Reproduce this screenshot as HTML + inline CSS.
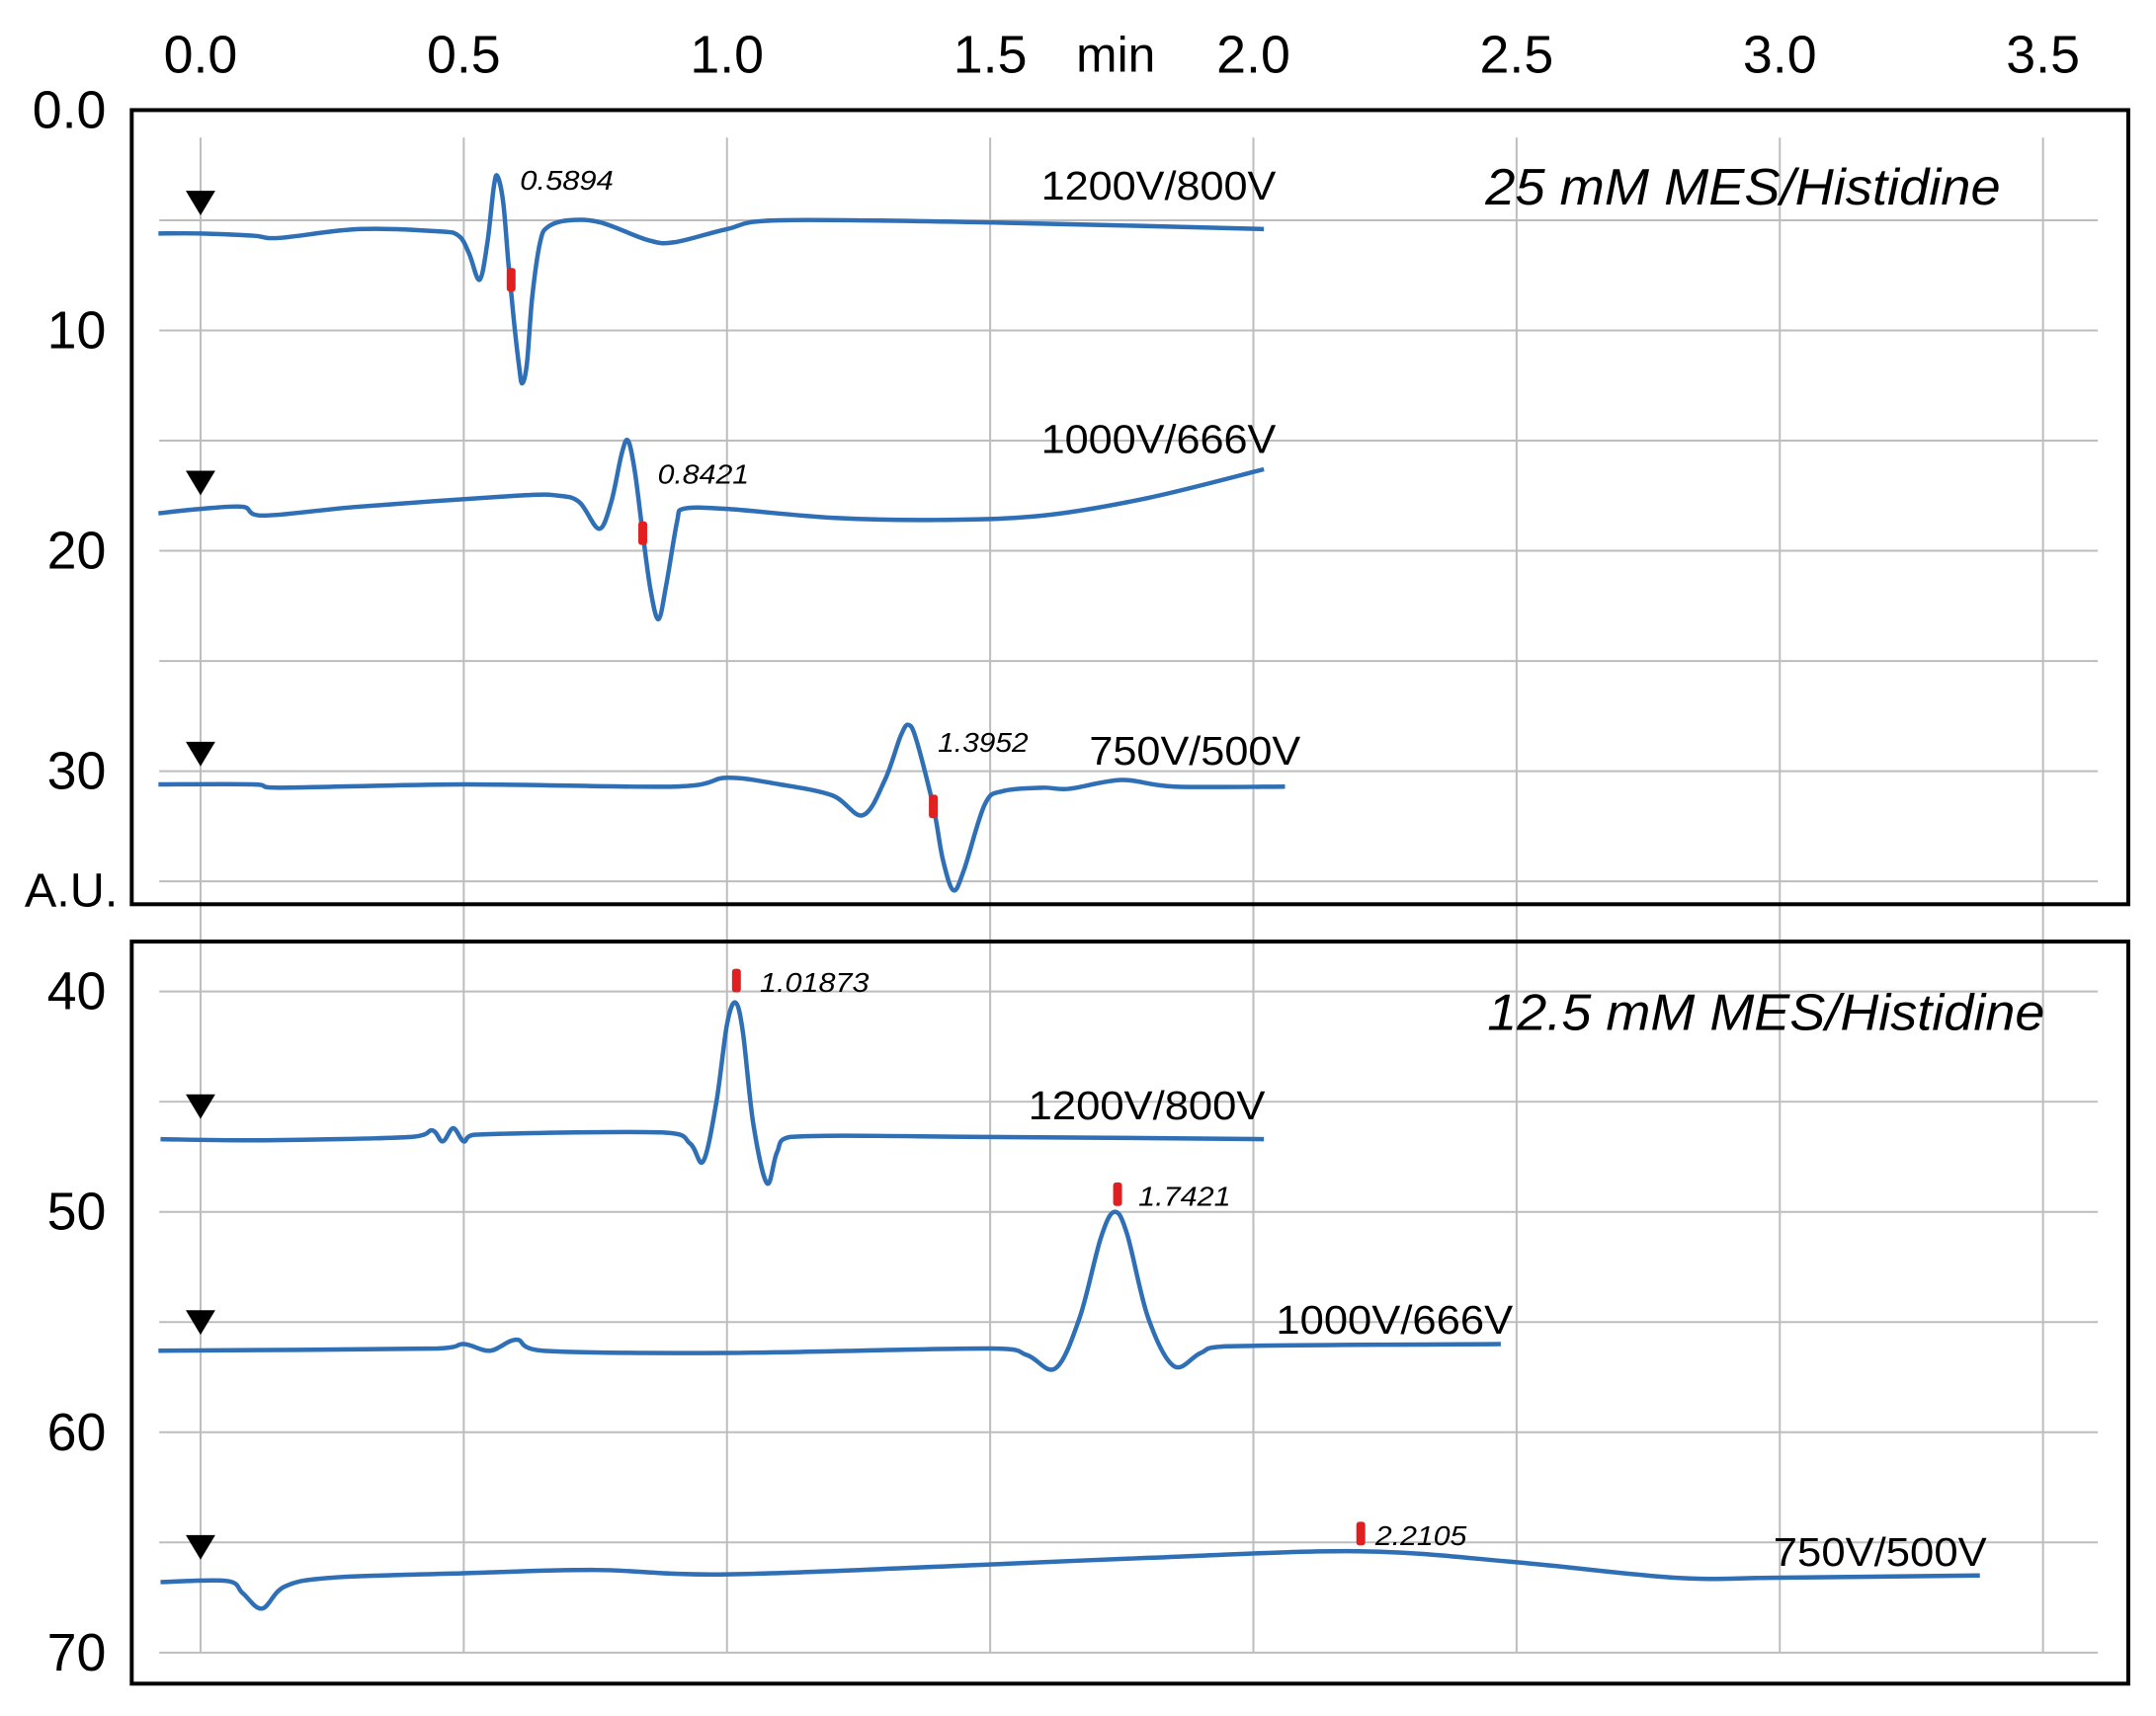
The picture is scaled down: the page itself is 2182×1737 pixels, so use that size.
<!DOCTYPE html>
<html><head><meta charset="utf-8"><style>
html,body{margin:0;padding:0;background:#fff;}
svg{display:block;font-family:"Liberation Sans",sans-serif;}
</style></head><body>
<svg id="chart" width="2182" height="1737" viewBox="0 0 2182 1737" xmlns="http://www.w3.org/2000/svg">
<g transform="scale(0.9949)">
<g id="grid"></g>
<g id="frames">
<rect x="134" y="112" width="2031" height="808" fill="none" stroke="#000" stroke-width="4"/>
<rect x="134" y="958" width="2031" height="755" fill="none" stroke="#000" stroke-width="4"/>
</g>
<g id="axes"></g>
<g id="traces"></g>
<g id="labels">
<text x="1511" y="208" font-size="52" font-style="italic" textLength="524" lengthAdjust="spacingAndGlyphs">25 mM MES/Histidine</text>
<text x="1513" y="1048" font-size="52" font-style="italic" textLength="567" lengthAdjust="spacingAndGlyphs">12.5 mM MES/Histidine</text>
<text x="1059" y="203" font-size="41" textLength="239" lengthAdjust="spacingAndGlyphs">1200V/800V</text>
<text x="1059" y="461" font-size="41" textLength="239" lengthAdjust="spacingAndGlyphs">1000V/666V</text>
<text x="1108" y="778" font-size="41" textLength="215" lengthAdjust="spacingAndGlyphs">750V/500V</text>
<text x="1046" y="1139" font-size="41" textLength="241" lengthAdjust="spacingAndGlyphs">1200V/800V</text>
<text x="1298" y="1357" font-size="41" textLength="241" lengthAdjust="spacingAndGlyphs">1000V/666V</text>
<text x="1804" y="1593" font-size="41" textLength="217" lengthAdjust="spacingAndGlyphs">750V/500V</text>
<text x="529" y="193" font-size="28" font-style="italic" textLength="95" lengthAdjust="spacingAndGlyphs">0.5894</text>
<text x="669" y="492" font-size="28" font-style="italic" textLength="93" lengthAdjust="spacingAndGlyphs">0.8421</text>
<text x="954" y="765" font-size="28" font-style="italic" textLength="92" lengthAdjust="spacingAndGlyphs">1.3952</text>
<text x="773" y="1009" font-size="28" font-style="italic" textLength="111" lengthAdjust="spacingAndGlyphs">1.01873</text>
<text x="1158" y="1227" font-size="28" font-style="italic" textLength="94" lengthAdjust="spacingAndGlyphs">1.7421</text>
<text x="1399" y="1572" font-size="28" font-style="italic" textLength="93" lengthAdjust="spacingAndGlyphs">2.2105</text>
</g>
</g>
</svg>
<script>
const xTicks = [0, 0.5, 1.0, 1.5, 2.0, 2.5, 3.0, 3.5];
const xTickLabels = ["0.0", "0.5", "1.0", "1.5", "2.0", "2.5", "3.0", "3.5"];
const yTicks = [0, 10, 20, 30, 40, 50, 60, 70];
const yTickLabels = ["0.0", "10", "20", "30", "40", "50", "60", "70"];
const yGridTop = [5, 10, 15, 20, 25, 30, 35];
const yGridBottom = [40, 45, 50, 55, 60, 65, 70];

const t1 = [-0.08,0,0.1,0.15,0.3,0.45,0.49,0.51,0.53,0.545,0.557,0.564,0.575,0.585,0.595,0.605,0.611,0.62,0.63,0.645,0.66,0.7,0.76,0.85,0.9,1.0,1.1,1.5,2.02];
const v1 = [5.6,5.6,5.7,5.8,5.4,5.5,5.7,6.5,7.7,6.0,3.5,3.0,4.2,7.0,9.5,11.6,12.4,11.5,8.5,6.0,5.3,5.0,5.1,5.9,6.0,5.4,5.0,5.1,5.4];
const t2 = [-0.08,0,0.08,0.12,0.3,0.6,0.68,0.72,0.757,0.78,0.8,0.812,0.825,0.84,0.855,0.87,0.885,0.905,0.916,1.0,1.2,1.4,1.6,1.8,2.02];
const v2 = [18.3,18.1,18.0,18.4,18.0,17.5,17.5,17.8,19.0,17.8,15.6,15.0,16.4,19.2,21.8,23.1,21.5,18.7,18.1,18.1,18.5,18.6,18.4,17.6,16.3];
const t3 = [-0.08,0.1,0.15,0.5,0.9,1.0,1.1,1.2,1.258,1.3,1.33,1.345,1.36,1.392,1.41,1.43,1.45,1.49,1.525,1.6,1.65,1.75,1.85,2.06];
const v3 = [30.6,30.6,30.75,30.6,30.7,30.3,30.6,31.1,32.0,30.4,28.4,27.9,28.6,31.6,34.0,35.4,34.5,31.5,30.9,30.75,30.8,30.4,30.7,30.7];
const t4 = [-0.076,0.12,0.4,0.44,0.46,0.48,0.5,0.52,0.88,0.93,0.955,0.98,1.0,1.016,1.03,1.05,1.076,1.095,1.12,1.5,2.02];
const v4 = [46.7,46.75,46.6,46.3,46.8,46.2,46.8,46.5,46.4,46.9,47.7,45.0,41.5,40.5,41.8,46.0,48.7,47.3,46.6,46.6,46.7];
const t5 = [-0.08,0.45,0.5,0.55,0.6,0.65,1.0,1.5,1.57,1.624,1.67,1.71,1.736,1.76,1.8,1.849,1.9,1.95,2.47];
const v5 = [56.3,56.2,56.0,56.3,55.8,56.3,56.4,56.2,56.5,57.1,54.8,51.2,50.0,51.0,54.8,57.0,56.4,56.1,56.0];
const t6 = [-0.076,0.05,0.08,0.117,0.16,0.25,0.5,0.75,1.0,1.5,1.8,2.2,2.5,2.8,3.0,3.38];
const v6 = [66.8,66.75,67.3,68.0,67.0,66.6,66.4,66.25,66.45,66.0,65.7,65.4,65.9,66.6,66.6,66.5];
const markerT = [0.59, 0.84, 1.392, 1.018, 1.742, 2.204];
const markerV = [7.7, 19.2, 31.6, 39.5, 49.2, 64.6];
const injectV = [4.2, 16.9, 29.2, 45.2, 55.0, 65.2];

const NS = "http://www.w3.org/2000/svg";
function X(t){ return 204 + 535.5 * t; }
function Y(v){ return 112 + 22.42 * v; }
function mk(tag, attrs, parent){
  const e = document.createElementNS(NS, tag);
  for (const k in attrs) e.setAttribute(k, attrs[k]);
  parent.appendChild(e);
  return e;
}
const grid = document.getElementById('grid');
const axes = document.getElementById('axes');
const traces = document.getElementById('traces');

xTicks.forEach((t, i) => {
  const l = mk('line', {x1: X(t), x2: X(t), y1: 140, y2: 1681, stroke: '#bdbdbd', 'stroke-width': 2}, grid);
  
  
  const tx = mk('text', {x: X(t), y: 56, 'font-size': 54, 'text-anchor': 'middle', 'dominant-baseline': 'central'}, axes);
  tx.textContent = xTickLabels[i];
  
  
});
const minT = mk('text', {x: 1135, y: 56, 'font-size': 50, 'text-anchor': 'middle', 'dominant-baseline': 'central'}, axes);
minT.textContent = 'min';



yGridTop.concat(yGridBottom).forEach(v => {
  const l = mk('line', {x1: 162, x2: 2134, y1: Y(v), y2: Y(v), stroke: '#bdbdbd', 'stroke-width': 2}, grid);
  
  
});
yTicks.forEach((v, i) => {
  const tx = mk('text', {x: 108, y: Y(v), 'font-size': 54, 'text-anchor': 'end', 'dominant-baseline': 'central'}, axes);
  tx.textContent = yTickLabels[i];
  
  
});
const au = mk('text', {x: 25, y: 922, 'font-size': 48, textLength: 95, lengthAdjust: 'spacingAndGlyphs'}, axes);
au.textContent = 'A.U.';



const series = [[t1,v1],[t2,v2],[t3,v3],[t4,v4],[t5,v5],[t6,v6]];
const names = ['trace-1200v-25mm','trace-1000v-25mm','trace-750v-25mm','trace-1200v-12mm','trace-1000v-12mm','trace-750v-12mm'];
series.forEach((s, i) => {
  const pts = s[0].map((t, j) => [X(t), Y(s[1][j])]);
  let d = 'M' + pts[0][0] + ',' + pts[0][1];
  for (let j = 0; j < pts.length - 1; j++) {
    const p0 = pts[Math.max(0, j-1)], p1 = pts[j], p2 = pts[j+1], p3 = pts[Math.min(pts.length-1, j+2)];
    let c1x = p1[0] + (p2[0]-p0[0])/6, c1y = p1[1] + (p2[1]-p0[1])/6;
    let c2x = p2[0] - (p3[0]-p1[0])/6, c2y = p2[1] - (p3[1]-p1[1])/6;
    c1x = Math.min(Math.max(c1x, p1[0]), p2[0]);
    c2x = Math.min(Math.max(c2x, p1[0]), p2[0]);
    d += ' C' + c1x + ',' + c1y + ' ' + c2x + ',' + c2y + ' ' + p2[0] + ',' + p2[1];
  }
  const p = mk('path', {d: d, fill: 'none', stroke: '#2e6fb5', 'stroke-width': 4.5, 'stroke-linejoin': 'round'}, traces);
  
  
});
markerT.forEach((t, i) => {
  const r = mk('rect', {x: X(t) - 4.5, y: Y(markerV[i]) - 12, width: 9, height: 24, rx: 3, fill: '#e02020'}, traces);
  
  
});
injectV.forEach(v => {
  const x = X(0), y = Y(v);
  const tri = mk('polygon', {points: (x-15)+','+(y-12)+' '+(x+15)+','+(y-12)+' '+x+','+(y+13), fill: '#000'}, traces);
  
  
});
</script>
</body></html>
